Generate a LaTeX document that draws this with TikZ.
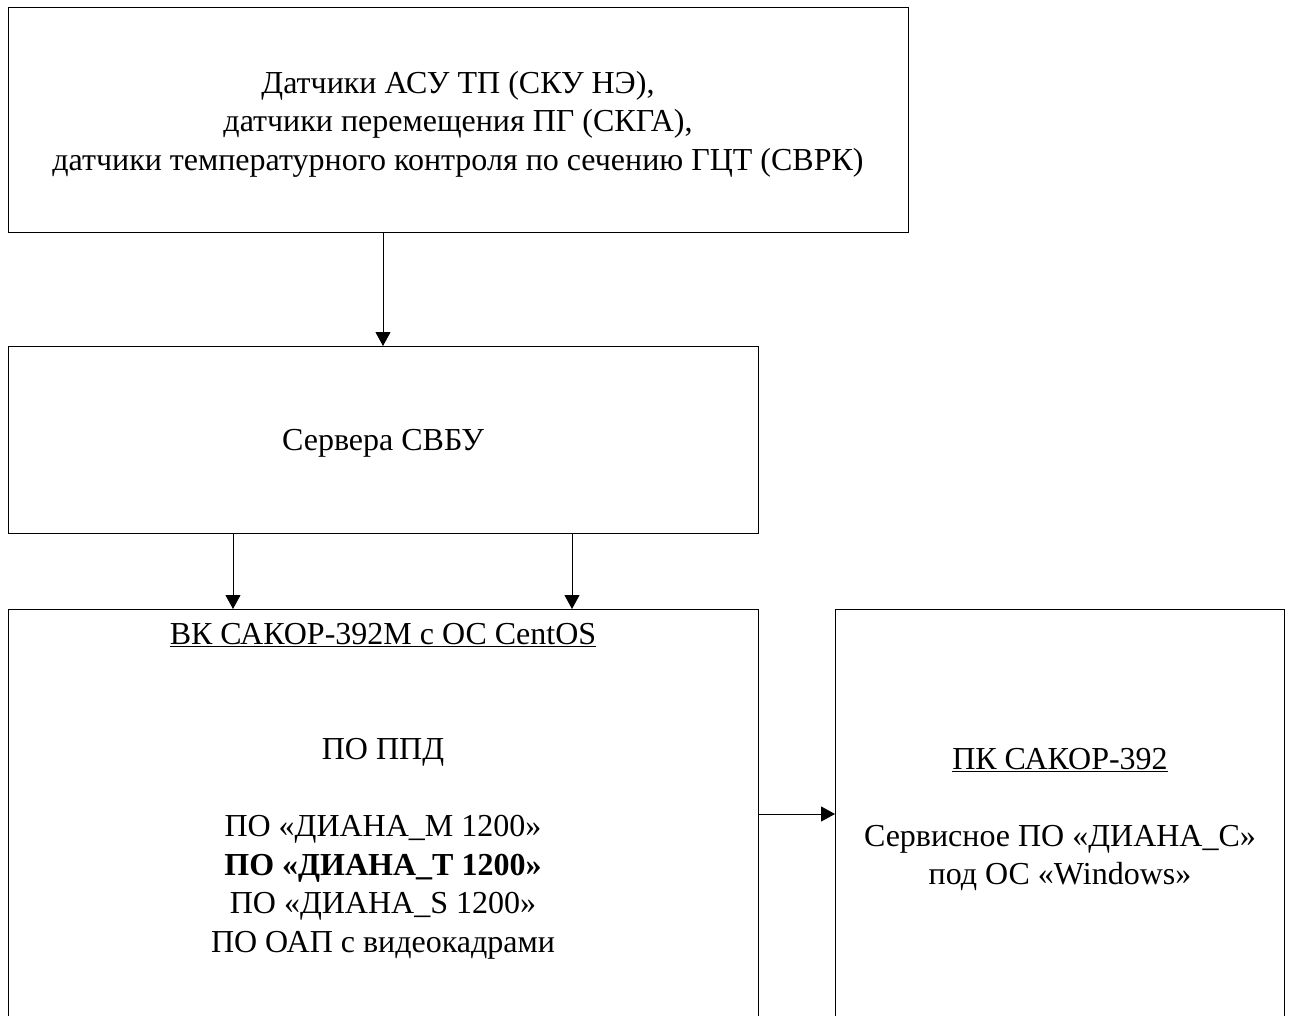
\documentclass[tikz,border=0pt]{standalone}
\usepackage{fontspec}
\setmainfont{Liberation Serif}
\usetikzlibrary{positioning,calc,arrows.meta}
\newcommand{\boxfont}{\fontsize{32}{38.5}\selectfont}

\begin{document}
\begin{tikzpicture}[x=1pt, y=-1pt]
\tikzstyle{box}=[rectangle, draw=black, line width=1pt, inner sep=0pt, outer sep=0pt, anchor=north west]
\tikzstyle{txt}=[align=center, inner sep=0pt, anchor=north, font=\boxfont]
\tikzstyle{connect}=[-{Triangle[length=14pt, width=15pt]}, line width=1pt]
  \useasboundingbox (0,0) rectangle (1290,1016);
  \node[box, minimum width=900pt, minimum height=225pt] (sensors) at (8,8) {};
  \node[box, minimum width=750pt, minimum height=187pt, below=113pt of sensors.south west, anchor=north west] (servers) {};
  \node[box, minimum width=750pt, minimum height=500pt, below=76pt of servers.south west, anchor=north west] (vk) {};
  \node[box, minimum width=449pt, minimum height=500pt, right=77pt of vk.north east, anchor=north west] (pk) {};
  % texts
  \node[txt] (sensorstxt) at (458,66) {\strut Датчики АСУ ТП (СКУ НЭ),\\ датчики перемещения ПГ (СКГА),\\ датчики температурного контроля по сечению ГЦТ (СВРК)};
  \node[txt, anchor=base] (serverstxt) at (383,450) {Сервера СВБУ};
  \node[txt] (vktxt) at (383,617) {\strut\underline{ВК САКОР-392М с ОС CentOS}\\ \strut\\ \strut\\ ПО ППД\\ \strut\\ ПО «ДИАНА\_М 1200»\\ \textbf{ПО «ДИАНА\_Т 1200»}\\ ПО «ДИАНА\_S 1200»\\ ПО ОАП с видеокадрами};
  \node[txt] (pktxt) at (1060,742) {\strut\underline{ПК САКОР-392}\\ \strut\\ Сервисное ПО «ДИАНА\_С»\\ под ОС «Windows»};
  % connectors
  \coordinate (s1) at ($(servers.south west)!0.3!(servers.south east)$);
  \coordinate (s2) at ($(servers.south west)!0.752!(servers.south east)$);
  \draw[connect] (sensors.south -| servers.north) -- (servers.north);
  \draw[connect] (s1) -- (s1 |- vk.north);
  \draw[connect] (s2) -- (s2 |- vk.north);
  \draw[connect] ([yshift=-205pt]vk.north east) -- ([yshift=-205pt]pk.north west);
\end{tikzpicture}
\end{document}
